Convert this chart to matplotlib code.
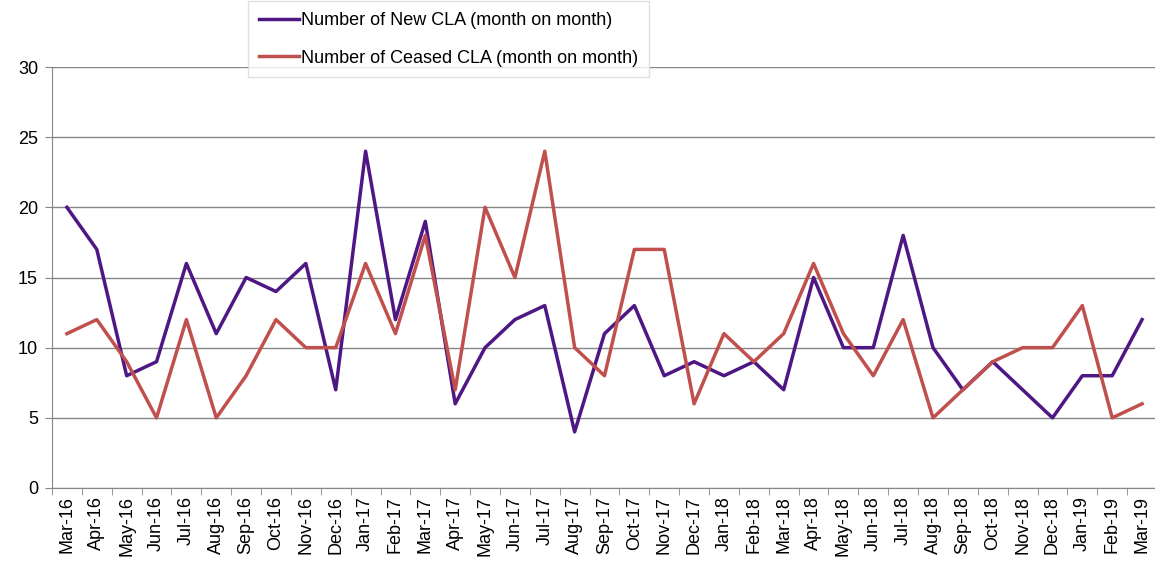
import matplotlib
matplotlib.use('Agg')
import matplotlib.pyplot as plt
import numpy as np

plt.rcParams['font.family'] = ['Liberation Sans', 'DejaVu Sans']

months = ['Mar-16', 'Apr-16', 'May-16', 'Jun-16', 'Jul-16', 'Aug-16', 'Sep-16', 'Oct-16',
          'Nov-16', 'Dec-16', 'Jan-17', 'Feb-17', 'Mar-17', 'Apr-17', 'May-17', 'Jun-17',
          'Jul-17', 'Aug-17', 'Sep-17', 'Oct-17', 'Nov-17', 'Dec-17', 'Jan-18', 'Feb-18',
          'Mar-18', 'Apr-18', 'May-18', 'Jun-18', 'Jul-18', 'Aug-18', 'Sep-18', 'Oct-18',
          'Nov-18', 'Dec-18', 'Jan-19', 'Feb-19', 'Mar-19']

new_cla = [20, 17, 8, 9, 16, 11, 15, 14, 16, 7, 24, 12, 19, 6, 10, 12,
           13, 4, 11, 13, 8, 9, 8, 9, 7, 15, 10, 10, 18, 10, 7, 9,
           7, 5, 8, 8, 12]

ceased_cla = [11, 12, 9, 5, 12, 5, 8, 12, 10, 10, 16, 11, 18, 7, 20, 15,
              24, 10, 8, 17, 17, 6, 11, 9, 11, 16, 11, 8, 12, 5, 7, 9,
              10, 10, 13, 5, 6]

purple = '#4F1784'
red = '#C0504D'
grey = '#868686'

fig = plt.figure(figsize=(11.55, 5.7), dpi=100)
ax = fig.add_axes([52 / 1155, 1 - 488 / 570, 1105 / 1155, 421 / 570])

x = np.arange(len(months))
ax.plot(x, new_cla, color=purple, lw=2.5, label='Number of New CLA (month on month)')
ax.plot(x, ceased_cla, color=red, lw=2.5, label='Number of Ceased CLA (month on month)')

ax.set_xlim(-0.5, len(months) - 0.5)
ax.set_ylim(0, 30)
ax.set_yticks(np.arange(0, 31, 5))
ax.yaxis.grid(True, color=grey, lw=1)
ax.set_axisbelow(True)

ax.set_xticks(x)
ax.set_xticklabels(months, rotation=90, fontsize=13)
ax.set_xticks(np.arange(-0.5, len(months), 1), minor=True)
ax.tick_params(axis='x', which='major', length=0, pad=6)
ax.tick_params(axis='x', which='minor', length=5, color=grey)
ax.tick_params(axis='y', length=5, color=grey, labelsize=13, pad=5)

for s in ['top', 'right']:
    ax.spines[s].set_visible(False)
for s in ['left', 'bottom']:
    ax.spines[s].set_color(grey)

leg = fig.legend(loc='upper left', bbox_to_anchor=(248 / 1155, 1 - 1 / 570), fontsize=13,
                 frameon=True, fancybox=False, handlelength=2.2, handletextpad=0.15,
                 labelspacing=1.15, borderpad=0.6, borderaxespad=0)
leg.get_frame().set_edgecolor('#D9D9D9')
leg.get_frame().set_linewidth(1)

fig.savefig('out.png', dpi=100)
